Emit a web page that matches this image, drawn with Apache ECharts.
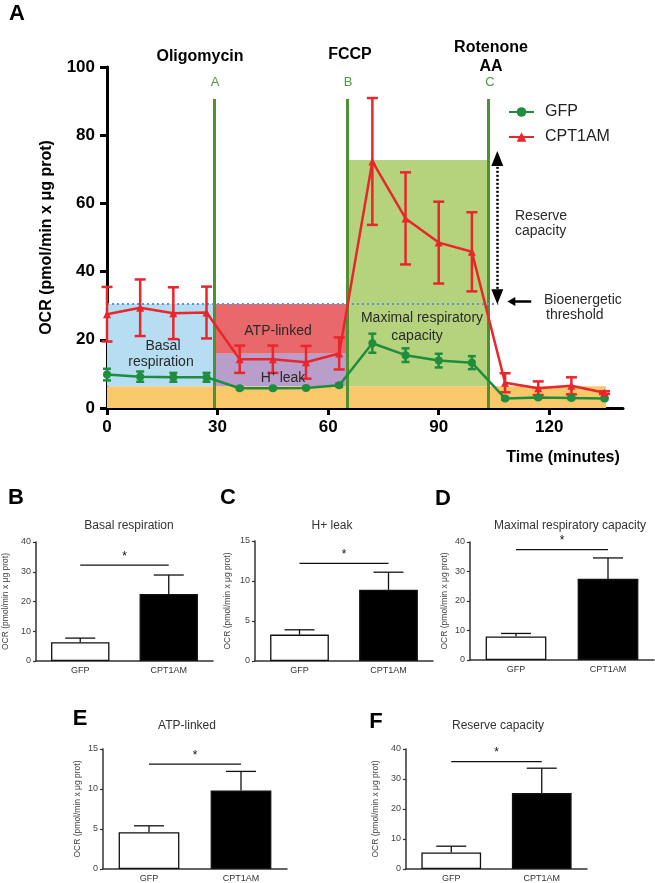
<!DOCTYPE html>
<html>
<head>
<meta charset="utf-8">
<script src="https://cdn.jsdelivr.net/npm/echarts@6/dist/echarts.min.js"></script>
<style>
html, body { margin: 0; background: #fff; }
#main { width: 655px; height: 883px; }
</style>
</head>
<body>
<div id="main"></div>
<script>
// ---- panel A: OCR time course ----
var times = [0, 9, 18, 27, 36, 45, 54, 63, 72, 81, 90, 99, 108, 117, 126, 135];
var gfpMean = [9.8, 9.2, 9.0, 9.0, 5.8, 5.8, 5.9, 6.7, 19.0, 15.5, 13.9, 13.3, 2.8, 3.1, 2.9, 2.8];
var gfpErr = [1.7, 1.5, 1.3, 1.3, 0.3, 0.3, 0.3, 0.4, 2.8, 2.0, 2.0, 1.9, 0.3, 0.3, 0.3, 0.3];
var cptMean = [27.5, 29.4, 27.8, 28.0, 14.3, 14.3, 13.4, 16.0, 72.3, 55.6, 48.5, 45.8, 7.4, 5.8, 6.5, 4.5];
var cptErr = [8.0, 8.3, 7.6, 7.6, 4.0, 4.0, 4.8, 4.7, 18.6, 13.5, 12.0, 11.6, 2.8, 2.0, 2.5, 0.4];
var xTicks = [0, 30, 60, 90, 120];

var injections = [29.2, 65.2, 103.5];
var injectionTop = 90.6;
var injectionLetters = ['A', 'B', 'C'];

// shaded boxes: [x0, x1, y0, y1]
var nonMitoBox = [0, 135.4, 0, 6.4];
var basalBox = [0, 29.2, 6.4, 30.5];
var atpBox = [29.2, 65.2, 15.9, 30.5];
var leakBox = [29.2, 65.2, 6.4, 15.9];
var maxBox = [65.2, 103.5, 6.4, 72.7];
var threshold = 30.5;
var thresholdEnd = 106.2;
var reserveArrow = [105.9, 32.6, 73.2]; // x, from, to
var thresholdArrow = [115.1, 109.7, 31.2]; // x from, x to, y

// ---- panels B-F: bar summaries ----
var barCats = ['GFP', 'CPT1AM'];
var panelLetters = ['B', 'C', 'D', 'E', 'F'];
var panelTitles = ['Basal respiration', 'H+ leak', 'Maximal respiratory capacity', 'ATP-linked', 'Reserve capacity'];
var panelGfp = [6.3, 3.3, 8.0, 4.6, 5.5];
var panelGfpTop = [7.7, 3.9, 9.0, 5.4, 7.6];
var panelCpt = [22.5, 8.9, 27.5, 9.8, 25.3];
var panelCptTop = [28.9, 11.1, 34.6, 12.2, 33.6];
var panelSig = [32.2, 12.2, 37.4, 13.1, 35.8];
var panelMax = [40, 15, 40, 15, 40];
var panelStep = [10, 5, 10, 5, 10];

var FONT = '"Liberation Sans", Arial, sans-serif';
var GREEN = '#1f8d3e';
var RED = '#e8262b';
var VLINE = '#4f9033';

// layout of the small panels
var smallGrids = [
  { left: 36, top: 542, width: 177, height: 119, gap: 26, title: [129, 526], letter: [16, 498] },
  { left: 255, top: 541, width: 178, height: 120, gap: 23, title: [332, 526], letter: [228, 498] },
  { left: 470, top: 542, width: 184, height: 118, gap: 21, title: [570, 526], letter: [443, 499] },
  { left: 103, top: 749, width: 184, height: 120, gap: 21, title: [187, 726], letter: [80, 719] },
  { left: 406, top: 749, width: 181, height: 120, gap: 26, title: [498, 726], letter: [376, 722] }
];

var chart = echarts.init(document.getElementById('main'));

function mainErr(color, cap) {
  return function (params, api) {
    var x = api.value(0);
    var lo = api.coord([x, api.value(1)]);
    var hi = api.coord([x, api.value(2)]);
    var st = { stroke: color, lineWidth: 2.5, fill: null };
    return {
      type: 'group',
      children: [
        { type: 'line', shape: { x1: lo[0], y1: lo[1], x2: hi[0], y2: hi[1] }, style: st },
        { type: 'line', shape: { x1: lo[0] - cap, y1: lo[1], x2: lo[0] + cap, y2: lo[1] }, style: st },
        { type: 'line', shape: { x1: hi[0] - cap, y1: hi[1], x2: hi[0] + cap, y2: hi[1] }, style: st }
      ]
    };
  };
}

function barErr(params, api) {
  var c = api.value(0);
  var lo = api.coord([c, api.value(1)]);
  var hi = api.coord([c, api.value(2)]);
  var st = { stroke: '#111', lineWidth: 1.3, fill: null };
  return {
    type: 'group',
    children: [
      { type: 'line', shape: { x1: lo[0], y1: lo[1], x2: hi[0], y2: hi[1] }, style: st },
      { type: 'line', shape: { x1: hi[0] - 15, y1: hi[1], x2: hi[0] + 15, y2: hi[1] }, style: st }
    ]
  };
}

function sigMark(params, api) {
  var a = api.coord([api.value(0), api.value(2)]);
  var b = api.coord([api.value(1), api.value(2)]);
  return {
    type: 'group',
    children: [
      { type: 'line', shape: { x1: a[0], y1: a[1], x2: b[0], y2: b[1] }, style: { stroke: '#111', lineWidth: 1.3 } },
      { type: 'text', style: { text: '*', x: (a[0] + b[0]) / 2, y: a[1] - 3, align: 'center', verticalAlign: 'bottom', font: '12px ' + FONT, fill: '#111' } }
    ]
  };
}

function boxArea(box, color) {
  return [{ xAxis: box[0], yAxis: box[2], itemStyle: { color: color } }, { xAxis: box[1], yAxis: box[3] }];
}

var grids = [{ left: 107, top: 67, width: 516, height: 341, outerBoundsMode: 'none' }];
var xAxes = [{
  gridIndex: 0, type: 'value', min: 0, max: 140,
  axisLine: { lineStyle: { color: '#000', width: 3 } },
  axisTick: { length: 7, lineStyle: { width: 3, color: '#000' }, customValues: xTicks },
  axisLabel: { customValues: xTicks, color: '#000', fontSize: 17, fontWeight: 'bold', fontFamily: FONT, margin: 11 },
  splitLine: { show: false }
}];
var yAxes = [{
  gridIndex: 0, type: 'value', min: 0, max: 100, interval: 20,
  name: 'OCR (pmol/min x μg prot)', nameLocation: 'middle', nameGap: 52,
  nameTextStyle: { color: '#000', fontSize: 16, fontWeight: 'bold', fontFamily: FONT },
  axisLine: { show: true, lineStyle: { color: '#000', width: 3 } },
  axisTick: { show: true, length: 7, lineStyle: { width: 3, color: '#000' } },
  axisLabel: { color: '#000', fontSize: 17, fontWeight: 'bold', fontFamily: FONT, margin: 12 },
  splitLine: { show: false }
}];

var series = [
  {
    name: 'areas', type: 'line', xAxisIndex: 0, yAxisIndex: 0, data: [], z: 1, silent: true,
    markArea: {
      silent: true, label: { show: false },
      data: [
        boxArea(nonMitoBox, '#f9c86b'),
        boxArea(basalBox, '#b6ddf1'),
        boxArea(atpBox, '#e9686c'),
        boxArea(leakBox, '#b99dca'),
        boxArea(maxBox, '#b4d37c')
      ]
    }
  },
  {
    name: 'guides', type: 'line', xAxisIndex: 0, yAxisIndex: 0, data: [], z: 3, silent: true,
    markLine: {
      silent: true, symbol: 'none', label: { show: false },
      data: injections.map(function (t) {
        return [{ coord: [t, 0], lineStyle: { color: VLINE, width: 3, type: 'solid' } }, { coord: [t, injectionTop] }];
      }).concat([
        [{ coord: [0, threshold], lineStyle: { color: '#5f93d3', width: 2.2, type: [2, 3] } }, { coord: [thresholdEnd, threshold] }],
        [{ coord: [reserveArrow[0], reserveArrow[1]], symbol: 'triangle', symbolSize: [12, 15], lineStyle: { color: '#000', width: 2.5, type: [2, 2] } },
         { coord: [reserveArrow[0], reserveArrow[2]], symbol: 'triangle', symbolSize: [12, 15] }],
        [{ coord: [thresholdArrow[0], thresholdArrow[2]], symbol: 'none', lineStyle: { color: '#000', width: 2.5, type: 'solid' } },
         { coord: [thresholdArrow[1], thresholdArrow[2]], symbol: 'triangle', symbolSize: [9, 8] }]
      ])
    }
  },
  {
    name: 'gfpErr', type: 'custom', xAxisIndex: 0, yAxisIndex: 0, z: 8,
    renderItem: mainErr(GREEN, 4),
    encode: { x: 0, y: [1, 2] },
    data: times.map(function (t, i) { return [t, gfpMean[i] - gfpErr[i], gfpMean[i] + gfpErr[i]]; })
  },
  {
    name: 'cptErr', type: 'custom', xAxisIndex: 0, yAxisIndex: 0, z: 8,
    renderItem: mainErr(RED, 5.5),
    encode: { x: 0, y: [1, 2] },
    data: times.map(function (t, i) { return [t, cptMean[i] - cptErr[i], cptMean[i] + cptErr[i]]; })
  },
  {
    name: 'GFP', type: 'line', xAxisIndex: 0, yAxisIndex: 0, z: 10,
    symbol: 'circle', symbolSize: 8,
    lineStyle: { color: GREEN, width: 2.5 }, itemStyle: { color: GREEN },
    data: times.map(function (t, i) { return [t, gfpMean[i]]; })
  },
  {
    name: 'CPT1AM', type: 'line', xAxisIndex: 0, yAxisIndex: 0, z: 10,
    symbol: 'triangle', symbolSize: 8,
    lineStyle: { color: RED, width: 2.5 }, itemStyle: { color: RED },
    data: times.map(function (t, i) { return [t, cptMean[i]]; })
  }
];

var graphics = [
  { type: 'text', left: 9, top: 3, style: { text: 'A', font: 'bold 22px ' + FONT, fill: '#000' } },
  { type: 'text', x: 200, y: 57, style: { text: 'Oligomycin', font: 'bold 16px ' + FONT, fill: '#000', align: 'center', verticalAlign: 'middle' } },
  { type: 'text', x: 350, y: 55, style: { text: 'FCCP', font: 'bold 16px ' + FONT, fill: '#000', align: 'center', verticalAlign: 'middle' } },
  { type: 'text', x: 491, y: 48, style: { text: 'Rotenone', font: 'bold 16px ' + FONT, fill: '#000', align: 'center', verticalAlign: 'middle' } },
  { type: 'text', x: 491, y: 67, style: { text: 'AA', font: 'bold 16px ' + FONT, fill: '#000', align: 'center', verticalAlign: 'middle' } },
  { type: 'text', x: 563, y: 458, style: { text: 'Time (minutes)', font: 'bold 16px ' + FONT, fill: '#000', align: 'center', verticalAlign: 'middle' } },
  { type: 'text', x: 163, y: 346, z: 20, style: { text: 'Basal', font: '14px ' + FONT, fill: '#2a2a2a', align: 'center', verticalAlign: 'middle' } },
  { type: 'text', x: 161, y: 362, z: 20, style: { text: 'respiration', font: '14px ' + FONT, fill: '#2a2a2a', align: 'center', verticalAlign: 'middle' } },
  { type: 'text', x: 278, y: 331, z: 20, style: { text: 'ATP-linked', font: '14px ' + FONT, fill: '#2a2a2a', align: 'center', verticalAlign: 'middle' } },
  { type: 'text', x: 283, y: 378, z: 20, style: { text: 'H⁺ leak', font: '14px ' + FONT, fill: '#2a2a2a', align: 'center', verticalAlign: 'middle' } },
  { type: 'text', x: 422, y: 318, z: 20, style: { text: 'Maximal respiratory', font: '14px ' + FONT, fill: '#2a2a2a', align: 'center', verticalAlign: 'middle' } },
  { type: 'text', x: 417, y: 336, z: 20, style: { text: 'capacity', font: '14px ' + FONT, fill: '#2a2a2a', align: 'center', verticalAlign: 'middle' } },
  { type: 'text', x: 515, y: 216, style: { text: 'Reserve', font: '14px ' + FONT, fill: '#2a2a2a', verticalAlign: 'middle' } },
  { type: 'text', x: 515, y: 231, style: { text: 'capacity', font: '14px ' + FONT, fill: '#2a2a2a', verticalAlign: 'middle' } },
  { type: 'text', x: 544, y: 300, style: { text: 'Bioenergetic', font: '14px ' + FONT, fill: '#2a2a2a', verticalAlign: 'middle' } },
  { type: 'text', x: 546, y: 315, style: { text: 'threshold', font: '14px ' + FONT, fill: '#2a2a2a', verticalAlign: 'middle' } }
];

// injection letters above the vertical lines
var injPx = [215, 348, 490];
injectionLetters.forEach(function (l, i) {
  graphics.push({ type: 'text', x: injPx[i], y: 82, style: { text: l, font: '13px ' + FONT, fill: '#4f9a3a', align: 'center', verticalAlign: 'middle' } });
});

smallGrids.forEach(function (g, k) {
  var gi = k + 1;
  grids.push({ left: g.left, top: g.top, width: g.width, height: g.height, outerBoundsMode: 'none' });
  xAxes.push({
    gridIndex: gi, type: 'category', data: barCats,
    axisLine: { lineStyle: { color: '#333', width: 1.5 } },
    axisTick: { show: false },
    axisLabel: { color: '#333', fontSize: 9, fontFamily: FONT, margin: 5 }
  });
  yAxes.push({
    gridIndex: gi, type: 'value', min: 0, max: panelMax[k], interval: panelStep[k],
    name: 'OCR (pmol/min x μg prot)', nameLocation: 'middle', nameGap: g.gap,
    nameTextStyle: { color: '#444', fontSize: 8.5, fontFamily: FONT },
    axisLine: { show: true, lineStyle: { color: '#333', width: 1.5 } },
    axisTick: { show: true, length: 3, lineStyle: { color: '#333', width: 1.2 } },
    axisLabel: { color: '#444', fontSize: 9, fontFamily: FONT, margin: 5 },
    splitLine: { show: false }
  });
  series.push({
    type: 'bar', xAxisIndex: gi, yAxisIndex: gi, barWidth: '66%', z: 2,
    data: [
      { value: panelGfp[k], itemStyle: { color: '#fff', borderColor: '#111', borderWidth: 1.3 } },
      { value: panelCpt[k], itemStyle: { color: '#000', borderColor: '#111', borderWidth: 1.3 } }
    ]
  });
  series.push({
    type: 'custom', xAxisIndex: gi, yAxisIndex: gi, z: 3, renderItem: barErr,
    encode: { x: 0, y: [1, 2] },
    data: [[0, panelGfp[k], panelGfpTop[k]], [1, panelCpt[k], panelCptTop[k]]]
  });
  series.push({
    type: 'custom', xAxisIndex: gi, yAxisIndex: gi, z: 3, renderItem: sigMark,
    encode: { x: [0, 1], y: 2 },
    data: [[0, 1, panelSig[k]]]
  });
  graphics.push({ type: 'text', x: g.title[0], y: g.title[1], style: { text: panelTitles[k], font: '12px ' + FONT, fill: '#333', align: 'center', verticalAlign: 'middle' } });
  graphics.push({ type: 'text', x: g.letter[0], y: g.letter[1], style: { text: panelLetters[k], font: 'bold 22px ' + FONT, fill: '#000', align: 'center', verticalAlign: 'middle' } });
});

chart.setOption({
  animation: false,
  backgroundColor: '#fff',
  textStyle: { fontFamily: FONT },
  legend: {
    data: ['GFP', 'CPT1AM'], orient: 'vertical', left: 503, top: 99,
    itemWidth: 25, itemHeight: 12, itemGap: 9,
    textStyle: { color: '#222', fontSize: 16, fontFamily: FONT, padding: [0, 0, 0, 6] }
  },
  grid: grids,
  xAxis: xAxes,
  yAxis: yAxes,
  series: series,
  graphic: graphics
});
</script>
</body>
</html>
